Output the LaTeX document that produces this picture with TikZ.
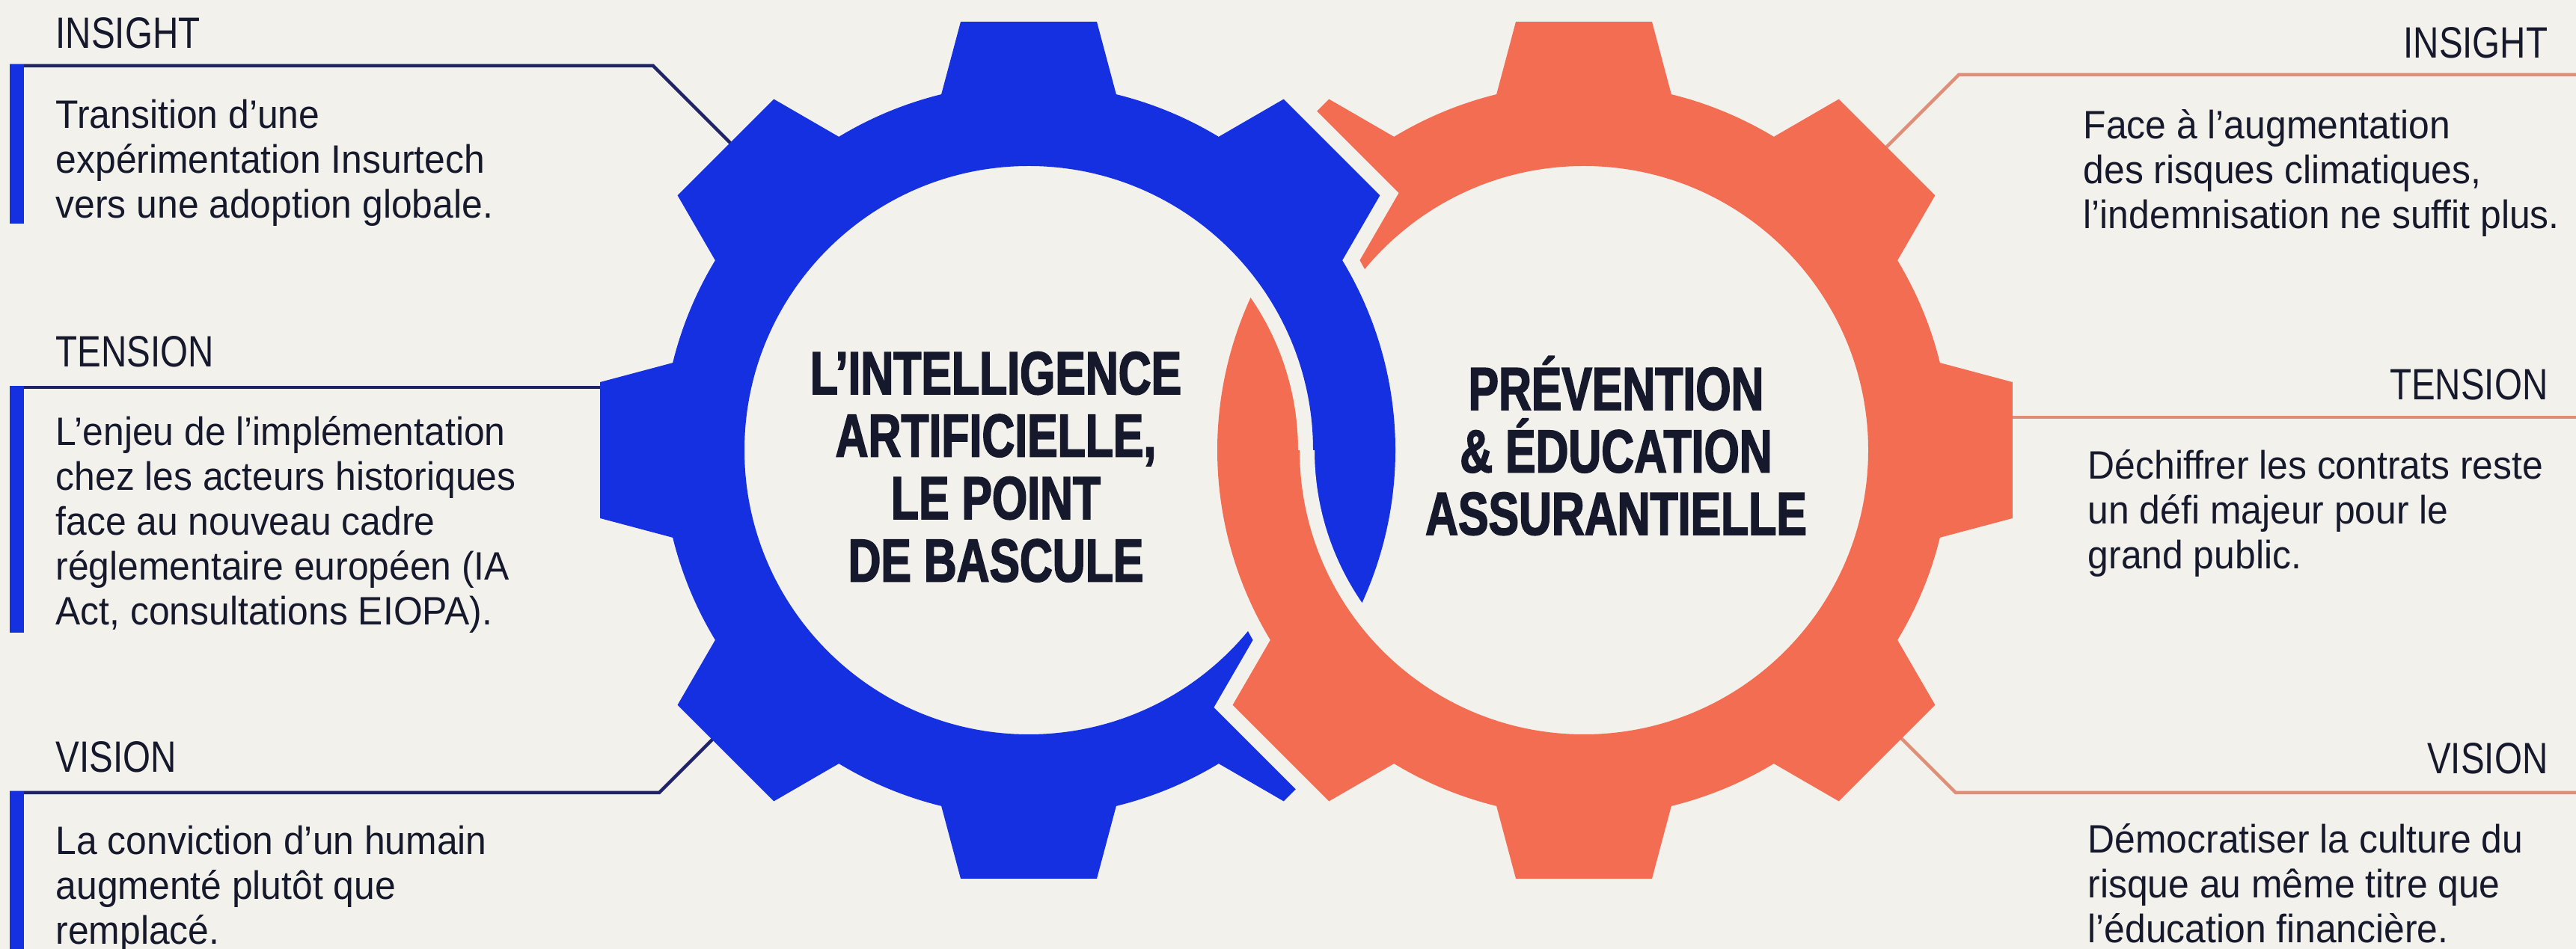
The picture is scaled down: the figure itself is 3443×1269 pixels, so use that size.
\documentclass[tikz,border=0pt]{standalone}
\usepackage{fontspec}
\newfontfamily\bodyfont{Liberation Sans}[FakeStretch=0.94]
\newfontfamily\labelfont{Liberation Sans}[FakeStretch=0.81]
\newfontfamily\titlefont{Liberation Sans}[FakeStretch=0.75, FakeBold=2]
\definecolor{bgc}{HTML}{F3F1EC}
\definecolor{gblue}{HTML}{1530E0}
\definecolor{gorange}{HTML}{F26D51}
\definecolor{ink}{HTML}{15192B}
\definecolor{navyline}{HTML}{1E2466}
\definecolor{salmonline}{HTML}{DF8F78}
\newcommand{\leftlines}[1]{\vtop{\lineskiplimit=-\maxdimen\halign{##\hfil\cr#1\crcr}}}
\newcommand{\centerlines}[1]{\vtop{\lineskiplimit=-\maxdimen\halign{\hfil##\hfil\cr#1\crcr}}}
\newcommand{\gearpath}[1]{(-22.5:490) \foreach \ga/\gt/\gb/\gd in {#1} { arc[start angle=\ga-22.5, end angle=\ga-\gb, radius=490] -- ({\ga-\gd}:\gt) -- ({\ga+\gd}:\gt) -- ({\ga+\gb}:490) arc[start angle=\ga+\gb, end angle=\ga+22.5, radius=490] } -- cycle (380,0) arc[start angle=0, end angle=360, radius=380] -- cycle}
\newcommand{\bluegear}{\gearpath{0/490/0/0,45/580/13.8/9.03,90/580/13.8/9.03,135/580/13.8/9.03,180/580/13.8/9.03,225/580/13.8/9.03,270/580/13.8/9.03,315/580/13.8/9.03}}
\newcommand{\orangegear}{\gearpath{0/580/13.8/9.03,45/580/13.8/9.03,90/580/13.8/9.03,135/580/13.8/9.03,180/490/0/0,225/580/13.8/9.03,270/580/13.8/9.03,315/580/13.8/9.03}}
\tikzset{
  lab/.style={inner sep=0pt, text=ink, font=\labelfont\fontsize{16.7pt}{20pt}\selectfont},
  body/.style={inner sep=0pt, text=ink, font=\bodyfont\fontsize{15.08pt}{17.07pt}\selectfont},
  ttl/.style={inner sep=0pt, text=ink, font=\titlefont\bfseries\fontsize{23.05pt}{23.76pt}\selectfont},
  lline/.style={draw=navyline, line width=0.45mm},
  rline/.style={draw=salmonline, line width=0.45mm},
  gapline/.style={draw=bgc, line width=4mm, line join=miter},
  barfill/.style={fill=gblue}
}
\begin{document}
\begin{tikzpicture}[x=0.1mm, y=0.1mm]
\useasboundingbox (0,0) rectangle (3443,1269);
\fill[bgc] (0,0) rectangle (3443,1269);

% ---- left connectors and bars
\coordinate (LIa) at (13,1181); \coordinate (LIb) at (873,1181); \coordinate (LIc) at (990,1064);
\coordinate (LTa) at (13,751);  \coordinate (LTb) at (830,751);
\coordinate (LVa) at (13,209);  \coordinate (LVb) at (881,209);  \coordinate (LVc) at (981,309);
\draw[lline] (LIa) -- (LIb) -- (LIc);
\draw[lline] (LTa) -- (LTb);
\draw[lline] (LVa) -- (LVb) -- (LVc);
\fill[barfill] (13,1183) rectangle (32,970);
\fill[barfill] (13,753) rectangle (32,423);
\fill[barfill] (13,211) rectangle (32,0);

% ---- blue gear
\begin{scope}[shift={(1375,667)}]
  \fill[gblue, even odd rule] \bluegear;
\end{scope}

% ---- orange gear gap
\begin{scope}[shift={(2117,667)}]
  \draw[gapline] \orangegear;
\end{scope}

% ---- right connectors
\coordinate (RIa) at (3443,1169); \coordinate (RIb) at (2618,1169); \coordinate (RIc) at (2518,1069);
\coordinate (RTa) at (3443,711);  \coordinate (RTb) at (2680,711);
\coordinate (RVa) at (3443,209);  \coordinate (RVb) at (2614,209);  \coordinate (RVc) at (2514,309);
\draw[rline] (RIa) -- (RIb) -- (RIc);
\draw[rline] (RTa) -- (RTb);
\draw[rline] (RVa) -- (RVb) -- (RVc);

% ---- orange gear
\begin{scope}[shift={(2117,667)}]
  \fill[gorange, even odd rule] \orangegear;
\end{scope}

% ---- blue over orange at the upper crossing
\begin{scope}
  \clip (1500,667) rectangle (2150,1269);
  \begin{scope}[shift={(1375,667)}]
    \draw[gapline] \bluegear;
    \fill[gblue, even odd rule] \bluegear;
  \end{scope}
\end{scope}

% ---- titles
\node[ttl, anchor=base] (tblue) at (1331,742) {\centerlines{L’INTELLIGENCE\cr ARTIFICIELLE,\cr LE POINT\cr DE BASCULE}};
\node[ttl, anchor=base] (torange) at (2160,721) {\centerlines{PRÉVENTION\cr \& ÉDUCATION\cr ASSURANTIELLE}};

% ---- left texts
\node[lab, anchor=base west] (lins) at (74,1204) {INSIGHT};
\node[body, anchor=base west] (linsb) at (74,1097) {\leftlines{Transition d’une\cr expérimentation Insurtech\cr vers une adoption globale.}};
\node[lab, anchor=base west] (lten) at (74,778) {TENSION};
\node[body, anchor=base west] (ltenb) at (74,673) {\leftlines{L’enjeu de l’implémentation\cr chez les acteurs historiques\cr face au nouveau cadre\cr réglementaire européen (IA\cr Act, consultations EIOPA).}};
\node[lab, anchor=base west] (lvis) at (74,236) {VISION};
\node[body, anchor=base west] (lvisb) at (74,126) {\leftlines{La conviction d’un humain\cr augmenté plutôt que\cr remplacé.}};

% ---- right texts
\node[lab, anchor=base east] (rins) at (3406,1191) {INSIGHT};
\node[body, anchor=base west] (rinsb) at (2784,1083) {\leftlines{Face à l’augmentation\cr des risques climatiques,\cr l’indemnisation ne suffit plus.}};
\node[lab, anchor=base east] (rten) at (3406,734) {TENSION};
\node[body, anchor=base west] (rtenb) at (2790,628) {\leftlines{Déchiffrer les contrats reste\cr un défi majeur pour le\cr grand public.}};
\node[lab, anchor=base east] (rvis) at (3406,234) {VISION};
\node[body, anchor=base west] (rvisb) at (2790,128) {\leftlines{Démocratiser la culture du\cr risque au même titre que\cr l’éducation financière.}};
\end{tikzpicture}
\end{document}
